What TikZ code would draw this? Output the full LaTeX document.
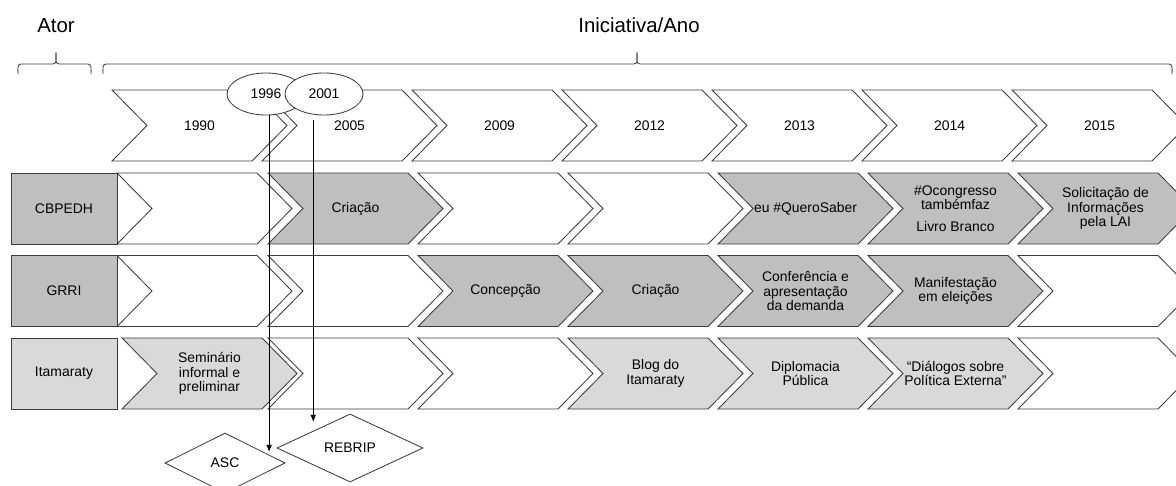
\documentclass[tikz,border=0pt]{standalone}
\usepackage{fontspec}
\setmainfont{Liberation Sans}
\usetikzlibrary{shapes.geometric, arrows.meta, calc}

\definecolor{darkcell}{HTML}{BFBFBF}
\definecolor{lightcell}{HTML}{D9D9D9}
\definecolor{edge}{HTML}{3C3C3C}

\tikzset{
  chev/.style={draw=edge, line width=0.6pt},
  lbl/.style={align=center, font=\fontsize{9.9}{10.3}\selectfont, inner sep=1pt},
  actorbox/.style={draw=edge, line width=0.6pt, minimum width=2.65cm, minimum height=1.775cm, font=\fontsize{9.9}{10.3}\selectfont},
  yearoval/.style={ellipse, draw=edge, fill=white, line width=0.6pt, minimum width=1.95cm, minimum height=1.05cm, inner sep=0pt, font=\fontsize{9.9}{10.3}\selectfont},
  civil/.style={diamond, draw=edge, fill=white, line width=0.6pt, inner sep=0pt, font=\fontsize{9.9}{10.3}\selectfont},
  arr/.style={-{Latex[length=5pt,width=4pt]}, draw=black, line width=0.6pt},
  heading/.style={font=\fontsize{14.5}{16}\selectfont},
}

% one chevron of the time line: name, left x, top y, fill, text
\newcommand{\chevron}[5]{%
  \filldraw[chev, fill=#4] (#2,#3) -- ++(140,0) -- ++(35,35.5) -- ++(-35,35.5) -- ++(-140,0) -- ++(35,-35.5) -- cycle;
  \node[lbl] (#1) at (#2+87.5,#3+35.5) {#5};
}

\begin{document}
\begin{tikzpicture}[x=0.025cm, y=-0.025cm]
    \useasboundingbox (0,0) rectangle (1176,486);
    \clip (0,0) rectangle (1176,486);

    % Headings and braces
    \node[heading] (ator) at (56,26) {Ator};
    \node[heading] (iniciativa) at (639,25) {Iniciativa/Ano};
    \draw[chev] (18,74) to[out=90,in=180] (21,64) -- (53,64) to[out=0,in=-90] (56,52)
        to[out=-90,in=180] (59,64) -- (88,64) to[out=0,in=90] (91,74);
    \draw[chev] (103,74) to[out=90,in=180] (106,64) -- (634,64) to[out=0,in=-90] (637,52)
        to[out=-90,in=180] (640,64) -- (1169,64) to[out=0,in=90] (1172,74);

    % Years
    \foreach \yr [count=\i from 0] in {1990,2005,2009,2012,2013,2014,2015} {
        \chevron{h\yr}{112+150*\i}{90}{white}{\yr}
    }

    % Ovals for the years in between
    \node[yearoval] (y1996) at (266,94) {1996};
    \node[yearoval] (y2001) at (324,94) {2001};

    % CBPEDH
    \node[actorbox, fill=darkcell] (cbpedh) at (64,208.5) {CBPEDH};
    \chevron{cb0}{117}{173}{white}{}
    \chevron{cb1}{268}{173}{darkcell}{Criação}
    \chevron{cb2}{418}{173}{white}{}
    \chevron{cb3}{568}{173}{white}{}
    \chevron{cb4}{718}{173}{darkcell}{eu \#QueroSaber}
    \chevron{cb5}{868}{173}{darkcell}{\#Ocongresso\\tambémfaz\\[5pt]Livro Branco}
    \chevron{cb6}{1018}{173}{darkcell}{Solicitação de\\Informações\\pela LAI}

    % GRRI
    \node[actorbox, fill=darkcell] (grri) at (64,291) {GRRI};
    \chevron{gr0}{117}{255.5}{white}{}
    \chevron{gr1}{268}{255.5}{white}{}
    \chevron{gr2}{418}{255.5}{darkcell}{Concepção}
    \chevron{gr3}{568}{255.5}{darkcell}{Criação}
    \chevron{gr4}{718}{255.5}{darkcell}{Conferência e\\apresentação\\da demanda}
    \chevron{gr5}{868}{255.5}{darkcell}{Manifestação\\em eleições}
    \chevron{gr6}{1018}{255.5}{white}{}

    % Itamaraty
    \node[actorbox, fill=lightcell] (itamaraty) at (64,373.5) {Itamaraty};
    \chevron{it0}{122}{338}{lightcell}{Seminário\\informal e\\preliminar}
    \chevron{it1}{268}{338}{white}{}
    \chevron{it2}{418}{338}{white}{}
    \chevron{it3}{568}{338}{lightcell}{Blog do\\Itamaraty}
    \chevron{it4}{718}{338}{lightcell}{Diplomacia\\Pública}
    \chevron{it5}{868}{338}{lightcell}{“Diálogos sobre\\Política Externa”}
    \chevron{it6}{1018}{338}{white}{}

    % Civil society networks
    \node[civil, minimum width=3cm, minimum height=1.5cm] (asc) at (225,463) {ASC};
    \node[civil, minimum width=3.65cm, minimum height=1.7cm] (rebrip) at (350,448) {REBRIP};

    % Links from the ovals
    \coordinate (ascin) at ($(asc.north)!.73!(asc.east)$);
    \draw[arr, shorten >=2pt] (y1996.south -| ascin) -- (ascin);
    \draw[arr, shorten <=3pt, shorten >=0.22cm] (y2001.south -| rebrip.north west) -- (rebrip.north west);

\end{tikzpicture}
\end{document}
